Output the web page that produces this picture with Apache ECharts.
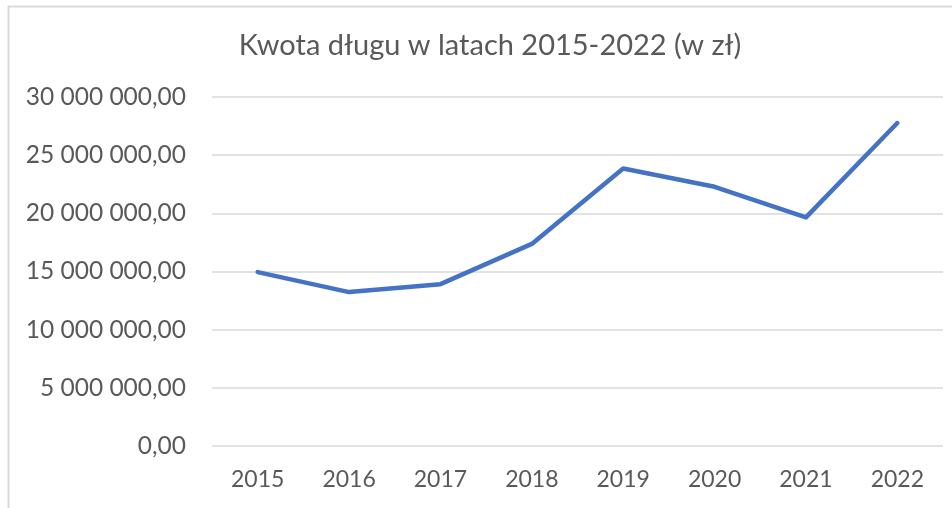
<!DOCTYPE html>
<html>
<head>
<meta charset="utf-8">
<script src="https://cdn.jsdelivr.net/npm/echarts@6/dist/echarts.min.js"></script>
<style>
html,body{margin:0;padding:0;background:#fff;}
#chart{width:952px;height:508px;}
</style>
</head>
<body>
<div id="chart"></div>
<script>
var titleText = 'Kwota długu w latach 2015-2022 (w zł)';
var years = ['2015','2016','2017','2018','2019','2020','2021','2022'];
var debt = [14950000, 13230000, 13910000, 17370000, 23850000, 22280000, 19650000, 27760000];
var yMin = 0, yMax = 30000000, yStep = 5000000;

function fmt(v){
  var s = Math.round(v).toString().replace(/\B(?=(\d{3})+(?!\d))/g, ' ');
  return s + ',00';
}

var chart = echarts.init(document.getElementById('chart'));
chart.setOption({
  backgroundColor: '#ffffff',
  animation: false,
  textStyle: { fontFamily: 'Lato' },
  title: {
    text: titleText,
    left: 485, top: 26,
    textAlign: 'center',
    textStyle: { fontFamily: 'Lato', fontSize: 29, fontWeight: 'normal', color: '#595959' }
  },
  grid: { left: 212, right: 9, top: 97, bottom: 62 },
  xAxis: {
    type: 'category',
    data: years,
    boundaryGap: true,
    axisLine: { show: false },
    axisTick: { show: false },
    axisLabel: { fontFamily: 'Lato', fontSize: 23, color: '#595959', margin: 22 }
  },
  yAxis: {
    type: 'value',
    min: yMin, max: yMax, interval: yStep,
    axisLine: { show: false },
    axisTick: { show: false },
    splitLine: { lineStyle: { color: '#d9d9d9', width: 1.5 } },
    axisLabel: { fontFamily: 'Lato', fontSize: 24.5, color: '#595959', margin: 26, formatter: fmt }
  },
  series: [{
    type: 'line',
    data: debt,
    symbol: 'none',
    lineStyle: { color: '#4472C4', width: 4.5, cap: 'round', join: 'round' },
    itemStyle: { color: '#4472C4' }
  }],
  graphic: [
    { type: 'line', shape: { x1: 8.5, y1: 6, x2: 8.5, y2: 508 }, style: { stroke: '#d9d9d9', lineWidth: 2 }, silent: true },
    { type: 'line', shape: { x1: 8, y1: 6.5, x2: 952, y2: 6.5 }, style: { stroke: '#d9d9d9', lineWidth: 2 }, silent: true }
  ]
});
</script>
</body>
</html>
